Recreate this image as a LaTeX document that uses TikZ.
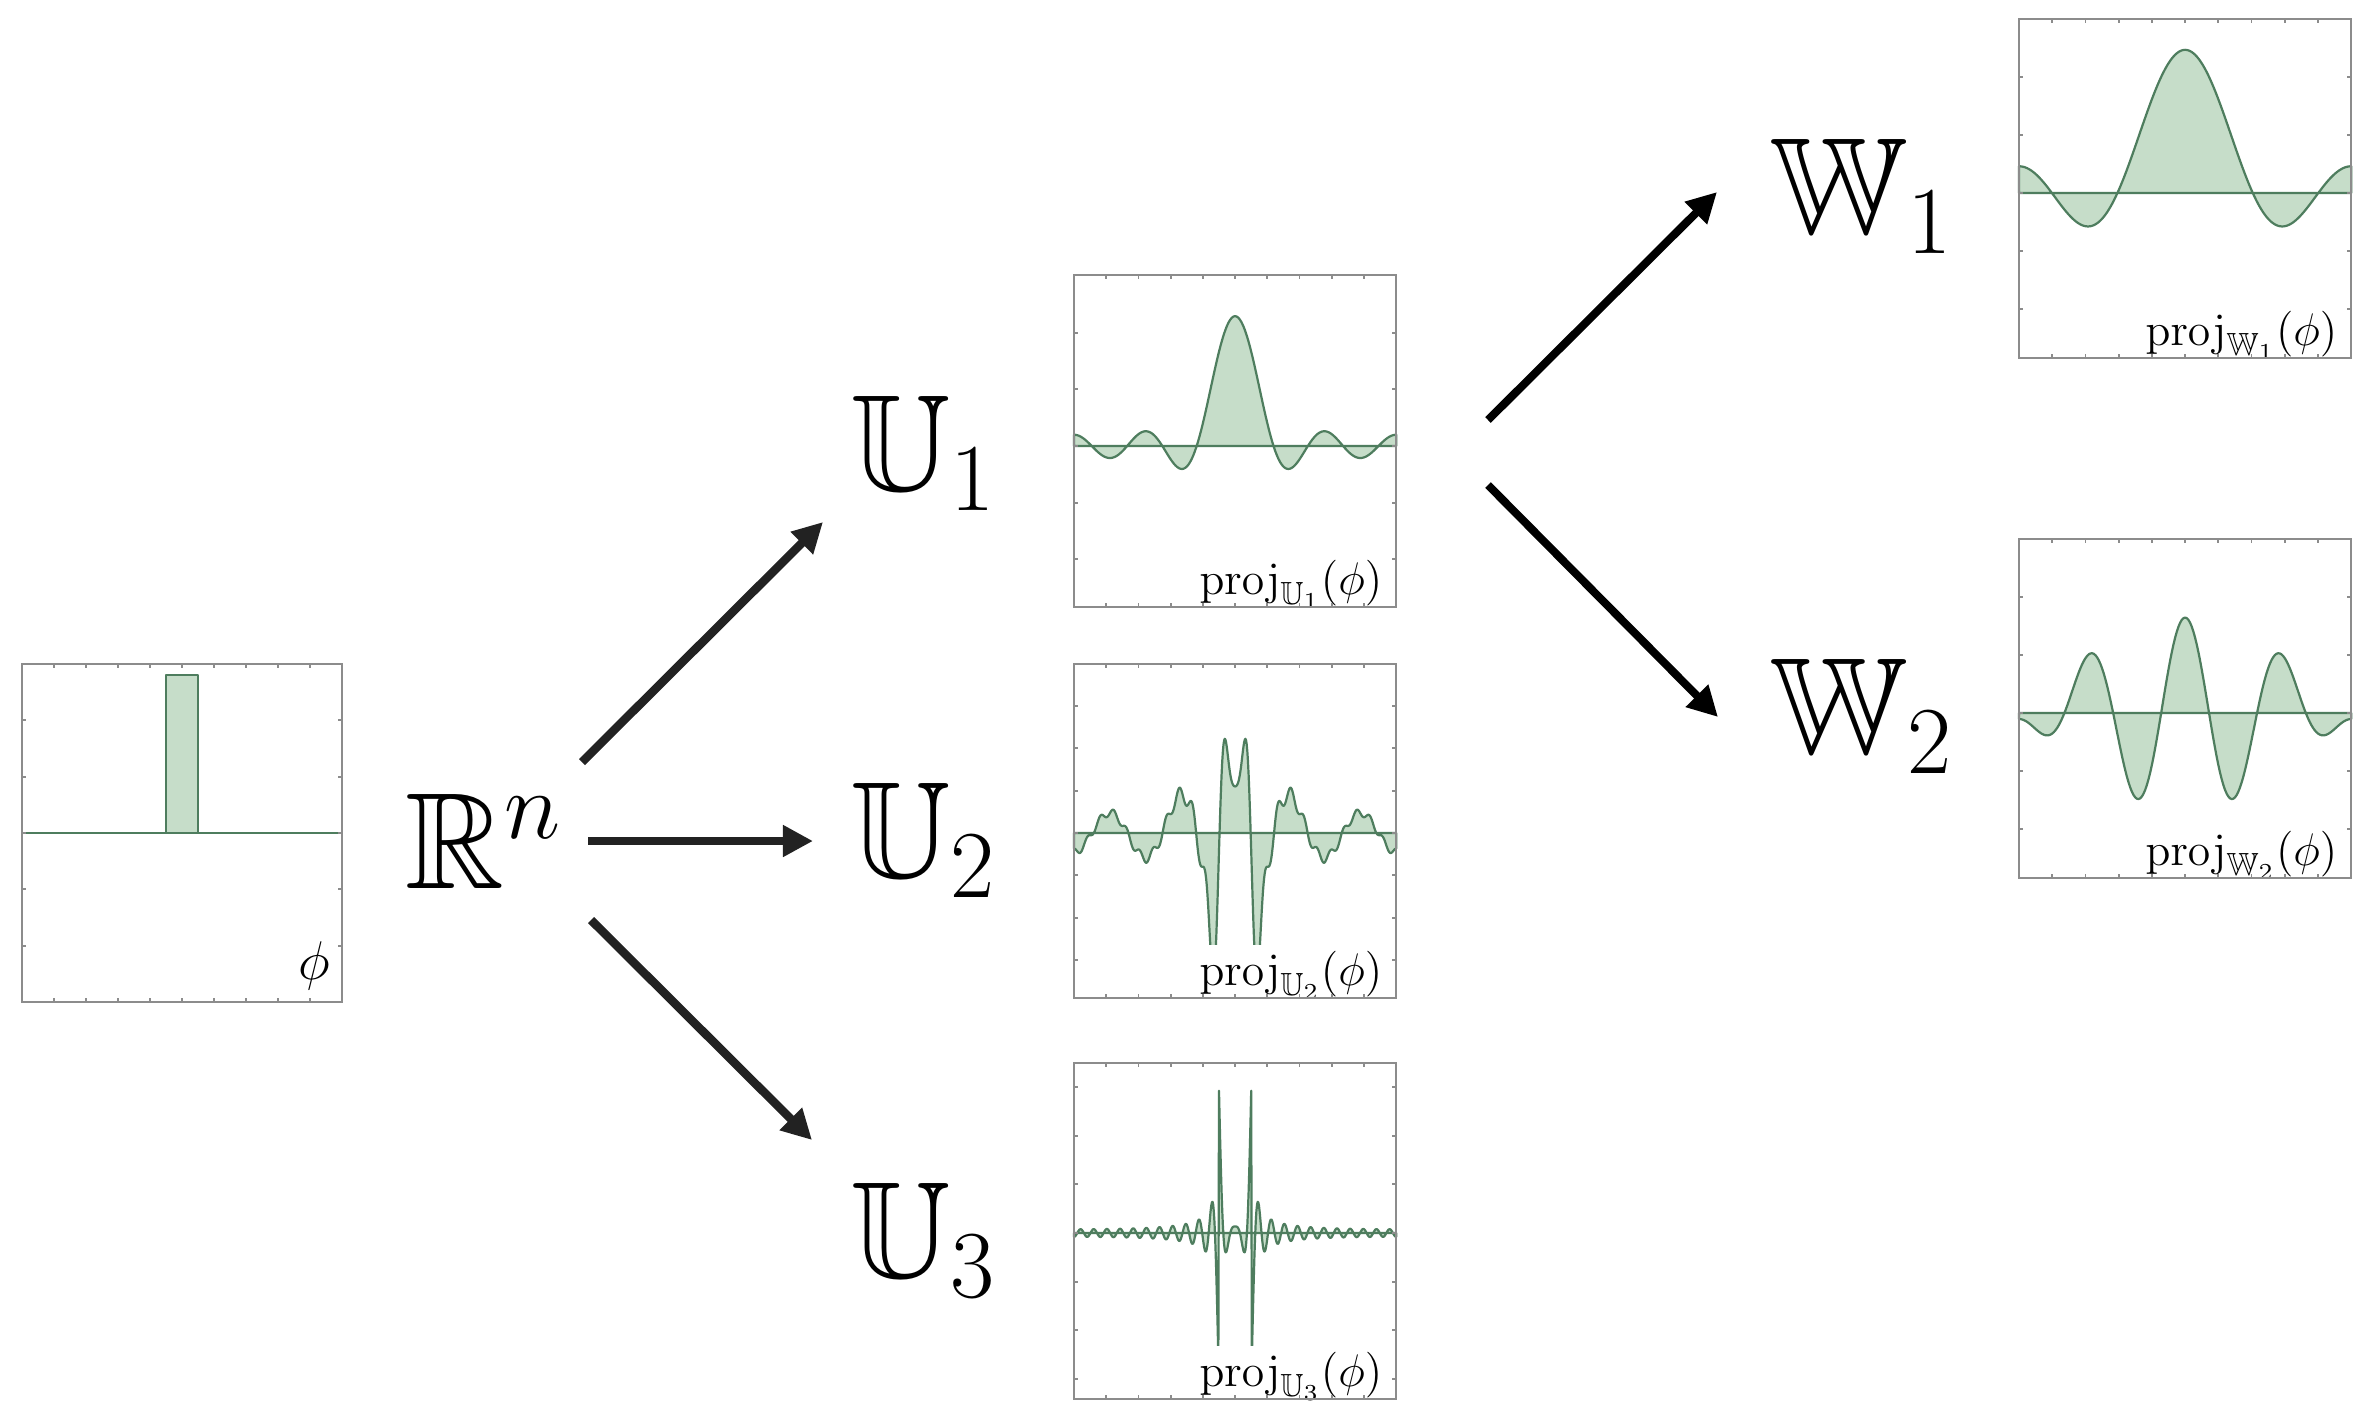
\RequirePackage{fix-cm}
\documentclass[tikz,border=0pt]{standalone}
\usepackage{amssymb}
\usetikzlibrary{arrows.meta}
\definecolor{fillg}{HTML}{C6DDC9}
\definecolor{lineg}{HTML}{4E7D5E}
\definecolor{framec}{HTML}{8C8C8C}
\definecolor{arrdark}{HTML}{222222}

% #1 kmin, #2 kmax, #3 constant term, #4 sign, #5 box flag, #6 scale, #7 samples
\newcommand\mkcurve[7]{%
  \gdef\ptlist{}%
  \foreach \ii in {0,...,#7}{%
    \pgfmathsetmacro\xx{10*\ii/#7}%
    \pgfmathsetmacro\thd{36*(\xx-5)}%
    \gdef\acc{0}%
    \foreach \kk in {#1,...,#2}{%
      \pgfmathsetmacro\tmpv{\acc+sin(18*\kk)/\kk*cos(\kk*\thd)}%
      \global\let\acc\tmpv
    }%
    \pgfmathsetmacro\yy{#6*((#4)*(#3+\acc)+#5*1.5708*(\xx>4.499)*(\xx<5.501))}%
    \xdef\ptlist{\ptlist -- (\xx,\yy)}%
  }%
}
% #1 L, #2 T, #3 R, #4 B, #5 axis, #6 tick spacing, #7 tick list
\newcommand\plotframe[7]{%
  \draw[framest] (#1,#2) rectangle (#3,#4);
  \foreach \ii in {1,...,9}{%
    \draw[framest] ({#1+(#3-#1)*\ii/10},#2) -- ++(0,4);
    \draw[framest] ({#1+(#3-#1)*\ii/10},#4) -- ++(0,-4);
  }
  \foreach \jj in {#7}{%
    \draw[framest] (#1,{#5-\jj*#6}) -- ++(4,0);
    \draw[framest] (#3,{#5-\jj*#6}) -- ++(-4,0);
  }
}

\tikzset{
  framest/.style={draw=framec, line width=0.018cm},
  curvest/.style={draw=lineg, line width=0.022cm, line join=round},
  biglab/.style={inner sep=0pt, anchor=base west, font=\fontsize{39}{47}\selectfont},
  projlab/.style={fill=white, inner sep=0.06cm, anchor=base east, font=\fontsize{13}{16}\selectfont},
  philab/.style={inner sep=0pt, anchor=base east, font=\fontsize{15.5}{18}\selectfont},
  arrL/.style={draw=arrdark, line width=0.085cm, -{Triangle[length=0.3cm,width=0.3cm]}, arrdark},
  arrR/.style={draw=black, line width=0.08cm, -{Triangle[length=0.3cm,width=0.3cm]}, black}
}

\begin{document}
\begin{tikzpicture}[x=0.01cm,y=-0.01cm]
\useasboundingbox (0,0) rectangle (2372,1420);
\fill[white] (0,0) rectangle (2372,1420);

% ---------- phi plot ----------
\begin{scope}[shift={(22,833)},x=0.32cm,y=0.5633cm]
  \draw[curvest] (0,0) -- (10,0);
  \filldraw[curvest, fill=fillg] (4.5,0) rectangle (5.5,2.8);
\end{scope}
\node[philab] (lphi) at (331,979) {$\phi$};
\plotframe{22}{664}{342}{1002}{833}{56.33}{-2,...,2}

% ---------- U1 plot ----------
\mkcurve{1}{4}{0.15708}{1}{0}{1.807}{200}
\begin{scope}[shift={(1074,446)},x=0.322cm,y=0.5667cm]
  \filldraw[curvest, fill=fillg] (0,0) \ptlist -- (10,0) -- cycle;
\end{scope}
\node[projlab] (lU1) at (1389,594) {$\mathrm{proj}_{\mathbb{U}_1}(\phi)$};
\plotframe{1074}{275}{1396}{607}{446}{56.67}{-2,...,2}

% ---------- U2 plot ----------
\mkcurve{5}{24}{0}{1}{0}{4.1}{500}
\begin{scope}[shift={(1074,833)},x=0.322cm,y=0.4233cm]
  \filldraw[curvest, fill=fillg] (0,0) \ptlist -- (10,0) -- cycle;
\end{scope}
\node[projlab] (lU2) at (1389,985) {$\mathrm{proj}_{\mathbb{U}_2}(\phi)$};
\plotframe{1074}{664}{1396}{998}{833}{42.33}{-3,...,3}

% ---------- U3 plot ----------
\mkcurve{1}{24}{0.15708}{-1}{1}{3.87}{500}
\begin{scope}[shift={(1074,1233)},x=0.322cm,y=0.4867cm]
  \filldraw[curvest, fill=fillg] (0,0) \ptlist -- (10,0) -- cycle;
\end{scope}
\node[projlab] (lU3) at (1389,1386) {$\mathrm{proj}_{\mathbb{U}_3}(\phi)$};
\plotframe{1074}{1063}{1396}{1399}{1233}{48.67}{-3,...,3}

% ---------- W1 plot ----------
\mkcurve{1}{2}{0.15708}{1}{0}{3.237}{200}
\begin{scope}[shift={(2019,193)},x=0.332cm,y=0.5817cm]
  \filldraw[curvest, fill=fillg] (0,0) \ptlist -- (10,0) -- cycle;
\end{scope}
\node[projlab] (lW1) at (2344,345) {$\mathrm{proj}_{\mathbb{W}_1}(\phi)$};
\plotframe{2019}{19}{2351}{358}{193}{58.17}{-2,...,2}

% ---------- W2 plot ----------
\mkcurve{3}{4}{0}{1}{0}{3.232}{200}
\begin{scope}[shift={(2019,713)},x=0.332cm,y=0.5817cm]
  \filldraw[curvest, fill=fillg] (0,0) \ptlist -- (10,0) -- cycle;
\end{scope}
\node[projlab] (lW2) at (2344,865) {$\mathrm{proj}_{\mathbb{W}_2}(\phi)$};
\plotframe{2019}{539}{2351}{878}{713}{58.17}{-2,...,2}

% ---------- space labels ----------
\node[biglab] (Rn) at (405,888) {$\mathbb{R}^n$};
\node[biglab] (U1) at (851,490) {$\mathbb{U}_1$};
\node[biglab] (U2) at (851,877) {$\mathbb{U}_2$};
\node[biglab] (U3) at (851,1277) {$\mathbb{U}_3$};
\node[biglab] (W1) at (1770,233) {$\mathbb{W}_1$};
\node[biglab] (W2) at (1770,753) {$\mathbb{W}_2$};

% ---------- arrows ----------
\coordinate (rU1s) at (582,762);  \coordinate (rU1e) at (823,522);
\coordinate (rU2s) at (588,841);  \coordinate (rU2e) at (813,841);
\coordinate (rU3s) at (591,920);  \coordinate (rU3e) at (812,1140);
\coordinate (uW1s) at (1488,420); \coordinate (uW1e) at (1717,192);
\coordinate (uW2s) at (1488,485); \coordinate (uW2e) at (1718,717);
\draw[arrL] (rU1s) -- (rU1e);
\draw[arrL] (rU2s) -- (rU2e);
\draw[arrL] (rU3s) -- (rU3e);
\draw[arrR] (uW1s) -- (uW1e);
\draw[arrR] (uW2s) -- (uW2e);
\end{tikzpicture}
\end{document}
